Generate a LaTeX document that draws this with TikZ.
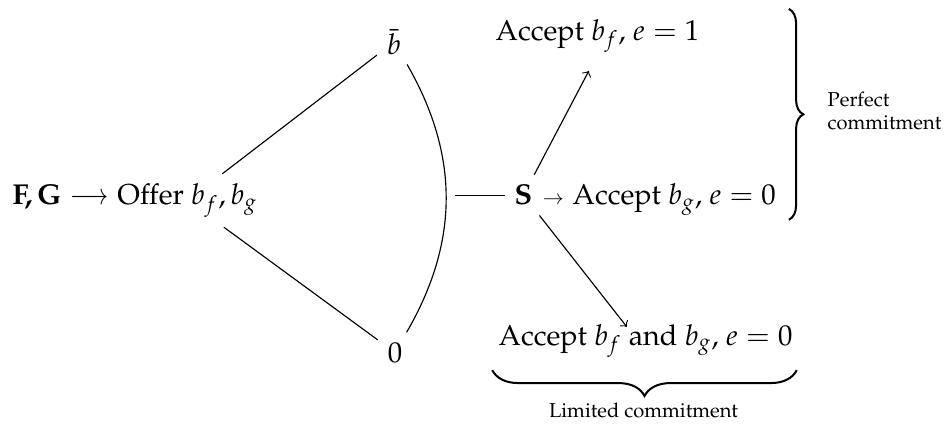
\documentclass[tikz,border=0pt]{standalone}
\usepackage[T1]{fontenc}
\usepackage{mathpazo}
\usepackage{amsmath}
\usetikzlibrary{positioning,decorations.pathreplacing}

\begin{document}
\begin{tikzpicture}[
small/.style={font=\scriptsize,align=left},
arr/.style={->},
curly/.style={decorate,decoration={brace,amplitude=#1},line width=0.7pt}
]
\useasboundingbox (0,0) rectangle (11.621,-5.242);
\node[anchor=base] (offer) at (2.291,-2.505) {Offer $b_f,b_g$};
\node[base left=-4.2pt of offer] (fg) {\textbf{F,\thinspace G}\hspace{3pt}\scalebox{0.8}[1]{$\longrightarrow$}};
\node (bbar) at (4.815,-0.513) {$\bar{b}$};
\node (zero) at (4.827,-4.308) {$0$};
\node[anchor=base] (S) at (6.397,-2.505) {\textbf{S}};
\node[base right=-3.5pt of S] (accg) {\scalebox{0.7}{$\to$}\hspace{3pt}Accept $b_g$, $e=0$};
\node[anchor=base] (accf) at (7.301,-0.489) {Accept $b_f$, $e=1$};
\node[anchor=base] (accboth) at (7.888,-4.216) {Accept $b_f$ and $b_g$, $e=0$};
\node[anchor=base,font=\scriptsize] (limited) at (7.864,-5.096) {Limited commitment};
\node[anchor=west,small] (perfect) at (9.99,-1.356) {Perfect\\commitment};

\draw (offer) -- (bbar);
\draw (offer) -- (zero);
\draw (bbar) to[bend left=30] coordinate[pos=0.5] (mid) (zero);
\draw (S.west) -- ([xshift=3pt]mid |- S.west);
\draw[arr] (S) -- ([xshift=-3pt,yshift=-3pt]accf.south);
\draw[arr] (S) -- ([xshift=-6.5pt,yshift=-4.5pt]accboth.north);

% braces
\draw[curly=5pt] ([xshift=1pt]accg.east |- accf.north) -- ([xshift=1pt,yshift=2pt]accg.south east);
\draw[curly=9pt] ([xshift=-2pt,yshift=-1pt]accboth.south east) -- ([xshift=1.3pt,yshift=-1pt]accboth.south west);
\end{tikzpicture}
\end{document}
